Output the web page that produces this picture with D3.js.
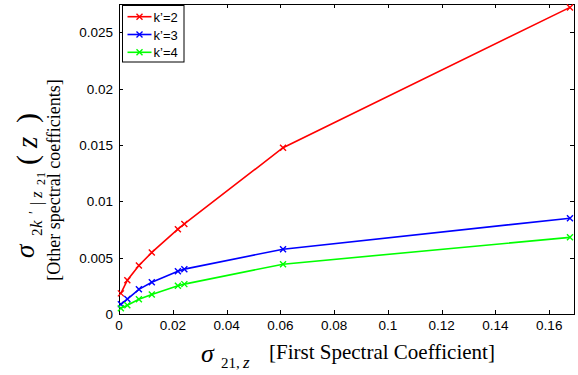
<!DOCTYPE html>
<html>
<head>
<meta charset="utf-8">
<script src="https://cdn.jsdelivr.net/npm/d3@7"></script>
<style>
  body { margin: 0; background: #fff; }
  svg { display: block; }
  .tick-lbl { font-family: "Liberation Sans", Arial, sans-serif; font-size: 13.5px; fill: #000; }
  .serif, .serif text { font-family: "Liberation Serif", "Times New Roman", serif; fill: #000; }
</style>
</head>
<body>
<svg id="chart" width="578" height="375"></svg>
<script>
// data
var xVals = [0.0007, 0.0031, 0.0074, 0.0122, 0.0219, 0.0243, 0.061, 0.1677];
var k2Vals = [0.00183, 0.0030, 0.00431, 0.00546, 0.00752, 0.00799, 0.01475, 0.0272];
var k3Vals = [0.00086, 0.00133, 0.00219, 0.00281, 0.0038, 0.00398, 0.00575, 0.0085];
var k4Vals = [0.0005, 0.00077, 0.0013, 0.00174, 0.0025, 0.00265, 0.00442, 0.0068];
var seriesNames = ['k\u2019=2', 'k\u2019=3', 'k\u2019=4'];
var seriesColors = ['#ff0000', '#0000ff', '#00ff00'];
var xTicks = [0, 0.02, 0.04, 0.06, 0.08, 0.1, 0.12, 0.14, 0.16];
var yTicks = [0, 0.005, 0.01, 0.015, 0.02, 0.025];

var series = [k2Vals, k3Vals, k4Vals].map(function(vals, i) {
  return { name: seriesNames[i], color: seriesColors[i],
    pts: vals.map(function(v, j) { return [xVals[j], v]; }) };
});

var svg = d3.select('#chart');
var plotL = 119, plotR = 574, plotT = 4, plotB = 314;

var x = d3.scaleLinear().domain([0, 0.1692]).range([plotL, plotR]);
var y = d3.scaleLinear().domain([0, 0.0275]).range([plotB, plotT]);

// frame
svg.append('rect')
  .attr('x', plotL + 0.5).attr('y', plotT + 0.5)
  .attr('width', plotR - plotL).attr('height', plotB - plotT)
  .attr('fill', 'none').attr('stroke', '#000').attr('stroke-width', 1);

// ticks (inward, on all four sides)
var tl = 4;
xTicks.forEach(function(t) {
  var px = Math.round(x(t)) + 0.5;
  svg.append('line').attr('x1', px).attr('x2', px).attr('y1', plotB).attr('y2', plotB - tl).attr('stroke', '#000');
  svg.append('line').attr('x1', px).attr('x2', px).attr('y1', plotT).attr('y2', plotT + tl).attr('stroke', '#000');
  svg.append('text').attr('class', 'tick-lbl')
    .attr('x', x(t)).attr('y', 330)
    .attr('text-anchor', 'middle')
    .text(d3.format('~g')(t));
});
yTicks.forEach(function(t) {
  var py = Math.round(y(t)) + 0.5;
  svg.append('line').attr('x1', plotL).attr('x2', plotL + tl).attr('y1', py).attr('y2', py).attr('stroke', '#000');
  svg.append('line').attr('x1', plotR).attr('x2', plotR - tl).attr('y1', py).attr('y2', py).attr('stroke', '#000');
  svg.append('text').attr('class', 'tick-lbl')
    .attr('x', 113).attr('y', y(t) + 5)
    .attr('text-anchor', 'end')
    .text(d3.format('~g')(t));
});

// lines and x markers
var line = d3.line().x(function(d) { return x(d[0]); }).y(function(d) { return y(d[1]); });
var ms = 3;
function cross(cx, cy) {
  return 'M' + (cx - ms) + ',' + (cy - ms) + 'L' + (cx + ms) + ',' + (cy + ms) +
    'M' + (cx - ms) + ',' + (cy + ms) + 'L' + (cx + ms) + ',' + (cy - ms);
}
series.forEach(function(s) {
  svg.append('path')
    .attr('d', line(s.pts))
    .attr('fill', 'none')
    .attr('stroke', s.color)
    .attr('stroke-width', 1.6);
  svg.selectAll(null)
    .data(s.pts)
    .enter()
    .append('path')
    .attr('d', function(d) { return cross(x(d[0]), y(d[1])); })
    .attr('stroke', s.color)
    .attr('stroke-width', 1.4)
    .attr('fill', 'none');
});

// legend
var lg = svg.append('g');
lg.append('rect')
  .attr('x', 122.5).attr('y', 5.5).attr('width', 61.5).attr('height', 56.5)
  .attr('fill', '#fff').attr('stroke', '#000').attr('stroke-width', 1);
series.forEach(function(s, i) {
  var ly = 16.7 + i * 17.8;
  lg.append('line').attr('x1', 127.5).attr('x2', 151.5).attr('y1', ly).attr('y2', ly)
    .attr('stroke', s.color).attr('stroke-width', 1.6);
  lg.append('path')
    .attr('d', cross(139.5, ly))
    .attr('stroke', s.color).attr('stroke-width', 1.4);
  lg.append('text').attr('class', 'tick-lbl')
    .attr('x', 153.5).attr('y', ly + 5)
    .style('font-size', '13px')
    .text(s.name);
});

// x axis label
var xg = svg.append('g').attr('class', 'serif');
xg.append('text').attr('x', 201).attr('y', 362)
  .style('font-style', 'italic').style('font-size', '26px').text('\u03c3');
xg.append('text').attr('x', 221).attr('y', 368)
  .style('font-size', '15px').text('21,');
xg.append('text').attr('x', 243).attr('y', 368)
  .style('font-style', 'italic').style('font-size', '17px').text('z');
xg.append('text').attr('x', 269).attr('y', 359)
  .style('font-size', '21px').text('[First Spectral Coefficient]');

// y axis label, line 1 (rotated; local x runs upward from y=258)
var yg = svg.append('g').attr('class', 'serif')
  .attr('transform', 'translate(0,258) rotate(-90)');
var yParts = [
  { t: '\u03c3', u: 0, v: 34, fs: 27, it: true },
  { t: '2', u: 22, v: 42, fs: 15, it: false },
  { t: 'k', u: 30, v: 42, fs: 17, it: true },
  { t: '\u2032', u: 44, v: 39, fs: 14, it: false },
  { t: '|', u: 53, v: 42, fs: 16, it: false },
  { t: 'z', u: 60, v: 42, fs: 17, it: true },
  { t: '21', u: 73, v: 45, fs: 12, it: false, ls: 1 },
  { t: '(', u: 93, v: 37, fs: 30, it: false },
  { t: 'z', u: 110, v: 37, fs: 29, it: true },
  { t: ')', u: 135, v: 37, fs: 30, it: false }
];
yParts.forEach(function(p) {
  yg.append('text')
    .attr('x', p.u).attr('y', p.v)
    .style('font-size', p.fs + 'px')
    .style('font-style', p.it ? 'italic' : 'normal')
    .style('letter-spacing', (p.ls || 0) + 'px')
    .text(p.t);
});

// y axis label, line 2
svg.append('text').attr('class', 'serif')
  .attr('transform', 'translate(59.5,180) rotate(-90)')
  .attr('text-anchor', 'middle')
  .style('font-size', '18px')
  .text('[Other spectral coefficients]');
</script>
</body>
</html>
